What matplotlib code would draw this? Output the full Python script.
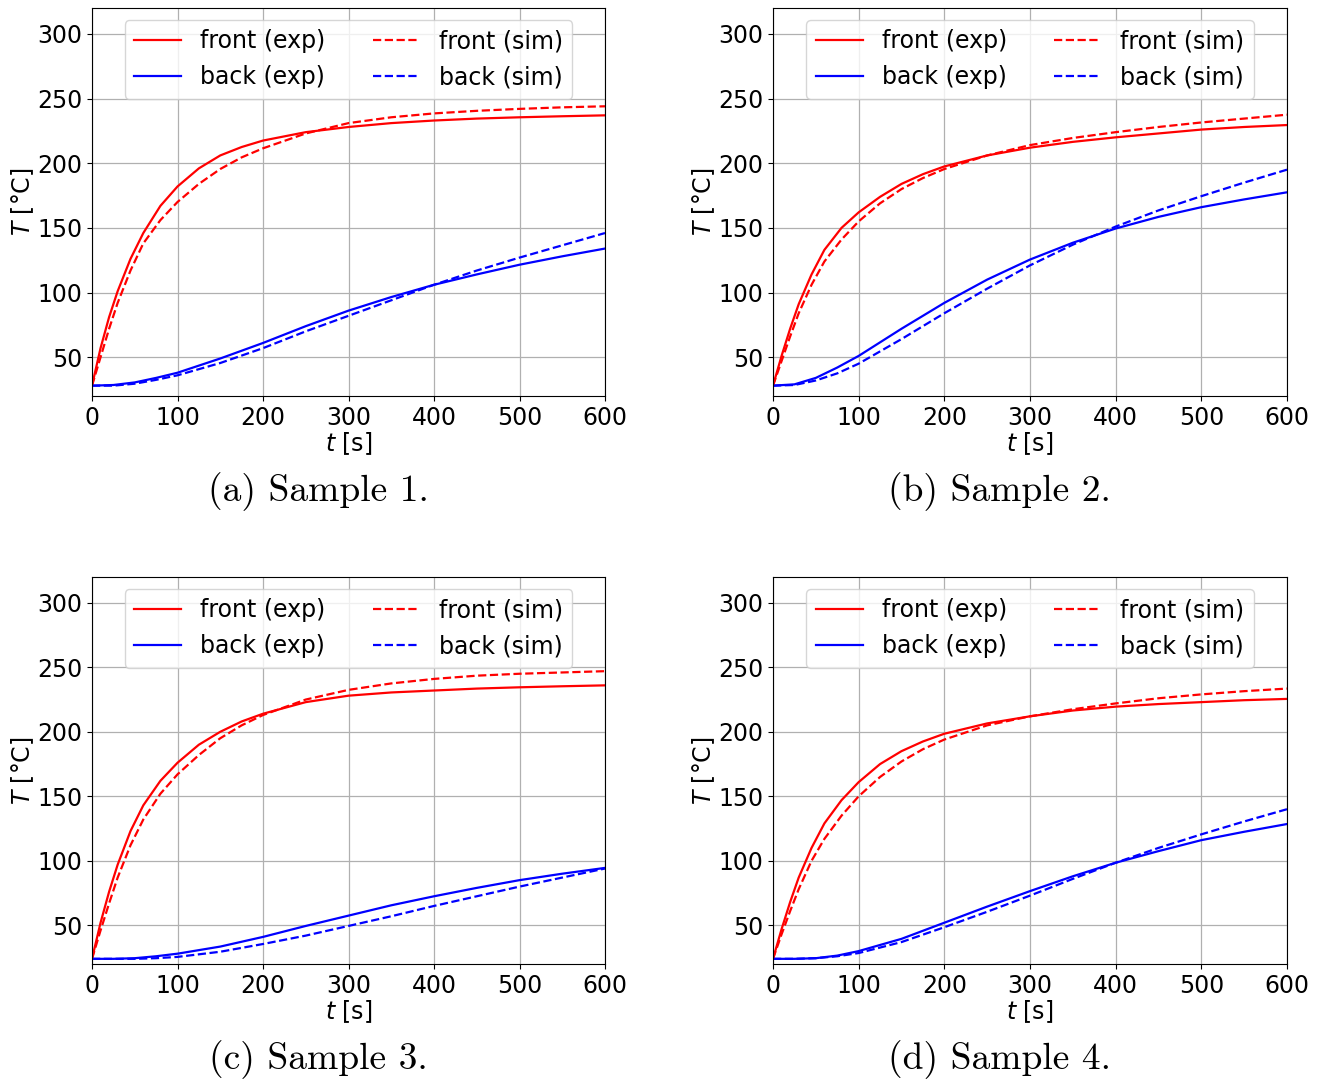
import numpy as np
import matplotlib.pyplot as plt

# time grids [s]
t_front = [0, 10, 20, 30, 45, 60, 80, 100, 125, 150, 175, 200, 250, 300, 350, 400, 450, 500, 550, 600]
t_back = [0, 25, 50, 75, 100, 150, 200, 250, 300, 350, 400, 450, 500, 550, 600]

# sample 1
front_exp_1 = [28, 57, 81, 101, 126, 146, 167, 182, 196, 206, 212.5, 217.5, 224, 228, 231, 233, 234.5, 235.5, 236.3, 237]
front_sim_1 = [28, 50, 72, 92, 117, 138, 156, 170, 184, 195.5, 204.5, 211.5, 223, 231, 235.5, 238.5, 240.5, 242, 243.2, 244]
back_exp_1 = [28, 28.5, 30.5, 34, 38, 49, 61, 74, 86, 96.5, 106, 114, 121.5, 128, 134]
back_sim_1 = [28, 28, 29.5, 32.5, 36, 45.5, 57, 70, 82, 94, 106, 117, 127, 136.5, 146]

# sample 2
front_exp_2 = [28, 51, 72, 91, 114, 133, 150, 162, 174, 184, 191.5, 197.5, 206, 212, 216.5, 220, 223, 226, 228, 229.5]
front_sim_2 = [28, 47, 66, 84, 106, 124, 141, 155, 169, 180, 188.5, 195.5, 206, 214, 219.5, 224, 228, 231.5, 234.5, 237.5]
back_exp_2 = [28, 29, 34, 42, 51, 72, 92, 110, 125.5, 138.5, 149.5, 158.5, 166, 172, 177.5]
back_sim_2 = [28, 28.5, 32, 37.5, 45, 64, 84, 103, 121, 137, 151, 163.5, 174.5, 185, 195]

# sample 3
front_exp_3 = [24, 52, 76, 97, 123, 143, 162, 176, 190, 200, 208, 214, 223, 228, 230.5, 232, 233.5, 234.5, 235.3, 236]
front_sim_3 = [24, 46, 67, 87, 112, 132, 152, 167, 182, 195, 205, 213, 225, 232.5, 237.5, 241, 243.5, 245, 246, 247]
back_exp_3 = [24, 24, 24.5, 26, 28, 33.5, 41, 49.5, 57.5, 65.5, 72.5, 79, 85, 90, 94.5]
back_sim_3 = [24, 24, 24, 24.5, 25.5, 29.5, 35.5, 42, 49.5, 57, 65, 72.5, 80, 87, 94]

# sample 4
front_exp_4 = [24, 47, 68, 87, 110, 129, 147, 161, 175, 185, 192.5, 198.5, 206.5, 212, 216.5, 219.5, 221.5, 223, 224.5, 225.5]
front_sim_4 = [24, 43, 61, 78, 100, 117, 135, 150, 165, 177, 186.5, 194, 205, 212, 217.5, 222, 226, 229, 231.5, 233.5]
back_exp_4 = [24, 24, 24.5, 26.5, 30, 39.5, 52, 64.5, 76.5, 88, 98.5, 107.5, 116, 122.5, 128.5]
back_sim_4 = [24, 24, 24.5, 26, 28.5, 37, 48.5, 60.5, 73, 86, 98.5, 110, 120.5, 130.5, 140]

samples = [
    (front_exp_1, front_sim_1, back_exp_1, back_sim_1),
    (front_exp_2, front_sim_2, back_exp_2, back_sim_2),
    (front_exp_3, front_sim_3, back_exp_3, back_sim_3),
    (front_exp_4, front_sim_4, back_exp_4, back_sim_4),
]
captions = ["(a) Sample 1.", "(b) Sample 2.", "(c) Sample 3.", "(d) Sample 4."]

fig = plt.figure(figsize=(13.24, 10.85), dpi=100)

W, H = 1324, 1085
# axes boxes in pixels: left, top, right, bottom
boxes = [(92, 8, 605, 396), (773, 8, 1287, 396), (92, 577, 605, 964), (773, 577, 1287, 964)]
cap_pos = [(318, 492), (999, 492), (318, 1060), (999, 1060)]

fs = 17
for k, (fe, fsim, be, bsim) in enumerate(samples):
    l, t, r, b = boxes[k]
    ax = fig.add_axes([l / W, 1 - b / H, (r - l) / W, (b - t) / H])
    ax.plot(t_front, fe, "-", color="red", lw=1.6, label="front (exp)")
    ax.plot(t_back, be, "-", color="blue", lw=1.6, label="back (exp)")
    ax.plot(t_front, fsim, "--", color="red", lw=1.6, label="front (sim)")
    ax.plot(t_back, bsim, "--", color="blue", lw=1.6, label="back (sim)")
    ax.set_xlim(0, 600)
    ax.set_ylim(20, 320)
    ax.set_xticks(np.arange(0, 601, 100))
    ax.set_yticks(np.arange(50, 301, 50))
    ax.tick_params(labelsize=fs)
    ax.grid(True, color="#b0b0b0", lw=0.9)
    ax.set_xlabel("$t$ [s]", fontsize=fs, labelpad=0)
    ax.set_ylabel("$T$ [°C]", fontsize=fs, labelpad=1)
    ax.legend(loc="upper center", ncol=2, fontsize=fs)

    cx, cy = cap_pos[k]
    fig.text(cx / W, 1 - cy / H, captions[k], family="cmr10", fontsize=27,
             ha="center", va="center")

fig.savefig("out.png", dpi=100)
